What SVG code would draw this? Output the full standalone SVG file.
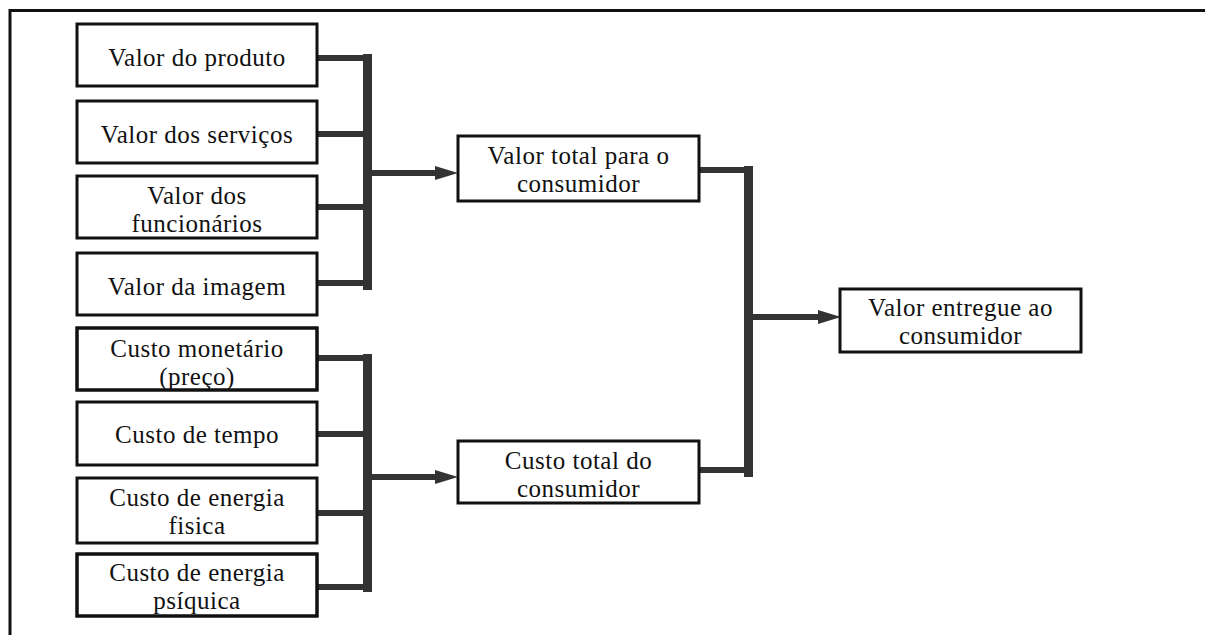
<svg xmlns="http://www.w3.org/2000/svg" width="1205" height="635" viewBox="0 0 1205 635">
<style>
.box{fill:#fff;stroke:#111;stroke-width:3}
.frame{fill:none;stroke:#111;stroke-width:3}
.t{font-family:"Liberation Serif","Times New Roman",serif;font-size:25px;letter-spacing:0.5px;fill:#111;text-anchor:middle}
.c{fill:none;stroke:#333;stroke-width:6}
.bar{fill:none;stroke:#333;stroke-width:9}
.ah{fill:#333}
</style>
<defs>
<clipPath id="c5"><rect x="77" y="328" width="240" height="61"/></clipPath>
<clipPath id="c8"><rect x="77" y="554" width="240" height="61"/></clipPath>
</defs>
<rect width="1205" height="635" fill="#fff"/>
<path class="frame" d="M10,635 V10.5 H1205"/>

<g id="connectors">
<path class="c" d="M317,58 H368 M317,134 H368 M317,207 H368 M317,283 H368"/>
<path class="bar" d="M367.5,54 V290"/>
<path class="c" d="M372,173 H438"/>
<polygon class="ah" points="435,166 458,173 435,180"/>
<path class="c" d="M317,358 H368 M317,434 H368 M317,513 H368 M317,587 H368"/>
<path class="bar" d="M367.5,354 V592"/>
<path class="c" d="M372,477 H438"/>
<polygon class="ah" points="435,470 458,477 435,484"/>
<path class="c" d="M699,170 H748 M699,470 H748"/>
<path class="bar" d="M748.5,166 V477"/>
<path class="c" d="M752,317 H821"/>
<polygon class="ah" points="818,310 841,317 818,324"/>
</g>

<g id="n1"><rect class="box" x="77" y="24" width="240" height="62"/><text class="t" x="197" y="66">Valor do produto</text></g>
<g id="n2"><rect class="box" x="77" y="101" width="240" height="62"/><text class="t" x="197" y="143">Valor dos serviços</text></g>
<g id="n3"><rect class="box" x="77" y="176" width="240" height="62"/><text class="t" x="197" y="204">Valor dos</text><text class="t" x="197" y="232">funcionários</text></g>
<g id="n4"><rect class="box" x="77" y="253" width="240" height="62"/><text class="t" x="197" y="295">Valor da imagem</text></g>

<g id="n5"><rect class="box" x="77" y="328" width="240" height="62"/><g clip-path="url(#c5)"><text class="t" x="197" y="357">Custo monetário</text><text class="t" x="197" y="385">(preço)</text></g><rect x="77" y="328" width="240" height="62" fill="none" stroke="#111" stroke-width="3"/></g>
<g id="n6"><rect class="box" x="77" y="402" width="240" height="63"/><text class="t" x="197" y="443">Custo de tempo</text></g>
<g id="n7"><rect class="box" x="77" y="478" width="240" height="65"/><text class="t" x="197" y="506">Custo de energia</text><text class="t" x="197" y="534">fisica</text></g>
<g id="n8"><rect class="box" x="77" y="554" width="240" height="62"/><g clip-path="url(#c8)"><text class="t" x="197" y="581">Custo de energia</text><text class="t" x="197" y="609">psíquica</text></g><rect x="77" y="554" width="240" height="62" fill="none" stroke="#111" stroke-width="3"/></g>

<g id="n9"><rect class="box" x="458" y="136" width="241" height="65"/><text class="t" x="578.5" y="164">Valor total para o</text><text class="t" x="578.5" y="192">consumidor</text></g>
<g id="n10"><rect class="box" x="458" y="441" width="241" height="62"/><text class="t" x="578.5" y="469">Custo total do</text><text class="t" x="578.5" y="497">consumidor</text></g>
<g id="n11"><rect class="box" x="840" y="289" width="241" height="63"/><text class="t" x="960.5" y="316">Valor entregue ao</text><text class="t" x="960.5" y="344">consumidor</text></g>
</svg>
